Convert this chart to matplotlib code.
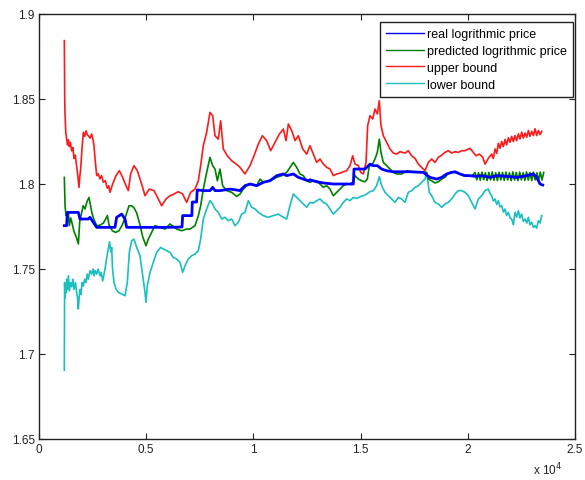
import matplotlib
matplotlib.use("Agg")
import matplotlib.pyplot as plt
from matplotlib.ticker import FuncFormatter

plt.rcParams['font.family'] = ['Liberation Sans', 'DejaVu Sans']

# ---------------- data ----------------
upper_x = [1181, 1200, 1213, 1250, 1290, 1330, 1370, 1415, 1460, 1524, 1580, 1632, 1690, 1757, 1800,
           1866, 1900, 1943, 2000, 2068, 2130, 2192, 2250, 2301, 2380, 2457, 2520, 2565, 2620, 2690,
           2760, 2845, 2920, 3001, 3090, 3187, 3250, 3311,
           3436, 3591, 3747, 3902, 4058, 4166, 4275, 4430, 4586, 4788, 4944,
           5146, 5364, 5566, 5721, 5923, 6110, 6296, 6498, 6700, 6887, 7074, 7276, 7431, 7540, 7664,
           7820, 7975, 8100, 8209, 8364, 8473, 8597, 8784, 8986, 9188, 9375, 9608, 9841, 10028, 10230,
           10417, 10619, 10806, 11008, 11210, 11397, 11522, 11631, 11786, 11942, 12097, 12299, 12486,
           12639, 12795, 12951, 13106, 13262, 13417, 13573, 13728, 13884, 14039, 14195, 14350, 14506,
           14630, 14739, 14894, 15003, 15127, 15252, 15329, 15438, 15563, 15671, 15780, 15873, 15951,
           16060, 16216, 16371, 16527, 16682, 16838, 17071, 17226, 17382, 17537, 17693, 17848, 18004,
           18159, 18315, 18470, 18626, 18781, 18937, 19092, 19248, 19403, 19559, 19714, 19870, 20103,
           20259, 20383, 20538, 20694, 20803, 20958, 21114, 21190, 21270, 21350, 21425, 21500, 21581,
           21660, 21736, 21810, 21892, 21970, 22047, 22125, 22203, 22280, 22358, 22436, 22514, 22590,
           22669, 22750, 22825, 22900, 22980, 23060, 23136, 23210, 23291, 23370, 23447]
upper_y = [1.8843, 1.8500, 1.8412, 1.8300, 1.8264, 1.8230, 1.8260, 1.8220, 1.8245, 1.8195, 1.8215, 1.8150,
           1.8170, 1.8100, 1.8060, 1.7980, 1.8040, 1.8088, 1.8200, 1.8304, 1.8280, 1.8313, 1.8290, 1.8284,
           1.8270, 1.8294, 1.8260, 1.8225, 1.8140, 1.8050, 1.8060, 1.8030, 1.8050, 1.8010, 1.8020, 1.7975,
           1.7990, 1.7951,
           1.8000, 1.8049, 1.8078, 1.8039, 1.7990, 1.7961, 1.8059, 1.8108, 1.8078, 1.8000, 1.7931,
           1.7970, 1.7961, 1.7912, 1.7872, 1.7912, 1.7931,
           1.7941, 1.7955, 1.7941, 1.7892, 1.7951, 1.7970, 1.8019, 1.8108, 1.8225, 1.8304, 1.8421, 1.8402,
           1.8284, 1.8264, 1.8372, 1.8206, 1.8166, 1.8137, 1.8118, 1.8098, 1.8059, 1.8108, 1.8166, 1.8235,
           1.8284, 1.8255, 1.8196, 1.8245, 1.8294, 1.8323, 1.8255, 1.8353, 1.8314, 1.8255, 1.8284, 1.8206,
           1.8176, 1.8225, 1.8176, 1.8127, 1.8147, 1.8118, 1.8098, 1.8088, 1.8049, 1.8059, 1.8064, 1.8072,
           1.8078, 1.8108, 1.8166, 1.8117, 1.8108, 1.8068, 1.8059, 1.8127, 1.8343, 1.8402, 1.8382, 1.8441,
           1.8412, 1.8490, 1.8343, 1.8284, 1.8245, 1.8206, 1.8182, 1.8176, 1.8190, 1.8182, 1.8196, 1.8166,
           1.8151, 1.8117, 1.8098, 1.8078, 1.8127, 1.8147, 1.8127, 1.8157, 1.8170, 1.8186, 1.8196, 1.8182,
           1.8190, 1.8186, 1.8196, 1.8196, 1.8210, 1.8186, 1.8166, 1.8176, 1.8157, 1.8117, 1.8151, 1.8176,
           1.8150, 1.8206, 1.8180, 1.8240, 1.8210, 1.8250, 1.8220, 1.8262, 1.8230, 1.8272, 1.8245, 1.8280,
           1.8250, 1.8285, 1.8255, 1.8295, 1.8265, 1.8305, 1.8270, 1.8300, 1.8275, 1.8315, 1.8280, 1.8310,
           1.8285, 1.8325, 1.8285, 1.8315, 1.8290, 1.8310]

pred_x = [1181, 1215, 1260, 1290, 1330, 1370, 1415, 1480, 1560, 1632, 1700, 1760, 1835, 1900, 1990,
          2060, 2146, 2200, 2250, 2330, 2410, 2470, 2534, 2690, 2845, 3001, 3111, 3189, 3265, 3420,
          3575, 3731, 3887, 4042, 4200, 4322, 4430, 4555, 4710, 4835, 4990, 5099,
          5255, 5410, 5643, 5876, 6110, 6420, 6653, 6887, 7042, 7276, 7431, 7540, 7664, 7789, 7975,
          8100, 8209, 8318, 8442, 8566, 8753, 8986, 9219, 9375, 9530, 9686, 9919, 10152, 10308, 10463,
          10696, 10929, 11085, 11318, 11551, 11707, 11862, 12018, 12173, 12329, 12484, 12639, 12795,
          12951, 13106, 13262, 13417, 13573, 13728, 13884, 14039, 14195, 14350, 14506, 14661, 14739,
          14894, 15050, 15205, 15314, 15407, 15516, 15671, 15780, 15873, 15951, 16060, 16216, 16371,
          16527, 16682, 16915, 17148, 17382, 17615, 17848, 18081, 18159, 18315, 18470, 18626, 18781,
          18937, 19092, 19248, 19403, 19637, 19792, 19948, 20181, 20336, 20420, 20500, 20580, 20660,
          20740, 20820, 20900, 20980, 21060, 21140, 21220, 21300, 21380, 21460, 21540, 21620, 21700,
          21780, 21860, 21940, 22020, 22100, 22180, 22260, 22340, 22420, 22500, 22580, 22660, 22740,
          22820, 22900, 22980, 23060, 23140, 23220, 23300, 23380, 23460, 23540]
pred_y = [1.8039, 1.7872, 1.7814, 1.7830, 1.7780, 1.7830, 1.7755, 1.7800, 1.7760, 1.7720, 1.7700, 1.7680,
          1.7647, 1.7780, 1.7833, 1.7872, 1.7853, 1.7880, 1.7900, 1.7921, 1.7870, 1.7830, 1.7800, 1.7755,
          1.7758, 1.7770, 1.7794, 1.7815, 1.7760, 1.7725, 1.7715, 1.7725, 1.7760, 1.7810, 1.7872, 1.7872,
          1.7860, 1.7830, 1.7760, 1.7690, 1.7637, 1.7676,
          1.7715, 1.7755, 1.7745, 1.7735, 1.7765, 1.7735,
          1.7725, 1.7735, 1.7735, 1.7755, 1.7813, 1.7872, 1.7970, 1.8049, 1.8157, 1.8108, 1.8088, 1.8019,
          1.8088, 1.7990, 1.7961, 1.7951, 1.7927, 1.7941, 1.7970, 1.7990, 1.8000, 1.7990, 1.8029, 1.8010,
          1.8019, 1.8029, 1.8039, 1.8049, 1.8068, 1.8098, 1.8127, 1.8098, 1.8059, 1.8049, 1.8019, 1.8010,
          1.8019, 1.8019, 1.8000, 1.7980, 1.7990, 1.7970, 1.7931, 1.7951, 1.7970, 1.7990, 1.8000, 1.8000,
          1.8013, 1.8049, 1.8029, 1.8019, 1.8013, 1.8029, 1.8108, 1.8108, 1.8147, 1.8186, 1.8264, 1.8186,
          1.8127, 1.8108, 1.8088, 1.8068, 1.8059, 1.8059, 1.8078, 1.8072, 1.8072, 1.8072, 1.8068, 1.8029,
          1.8019, 1.8006, 1.8013, 1.8029, 1.8039, 1.8064, 1.8072, 1.8068, 1.8059, 1.8049, 1.8053, 1.8045,
          1.8068, 1.8024, 1.8066, 1.8022, 1.8070, 1.8025, 1.8066, 1.8020, 1.8068, 1.8024, 1.8071, 1.8022,
          1.8066, 1.8020, 1.8069, 1.8024, 1.8068, 1.8021, 1.8070, 1.8024, 1.8066, 1.8020, 1.8071, 1.8023,
          1.8068, 1.8020, 1.8070, 1.8024, 1.8066, 1.8021, 1.8071, 1.8023, 1.8068, 1.8020, 1.8070, 1.8024,
          1.8066, 1.8020, 1.8070, 1.8023, 1.8068]

real_x = [1181, 1290, 1321, 1835, 1910, 2301, 2379, 2534, 2690, 3545, 3622, 3856, 4011, 4089, 5000,
          6000, 6670, 6700, 6900, 7130, 7150, 7350, 7380, 7664, 7975, 8100, 8209, 8442, 8908, 9141,
          9375, 9608, 9841, 10152, 10463, 10774, 11085, 11397, 11551, 11862, 12096, 12329, 12562, 12639,
          12951, 13262, 13728, 14661, 14692, 15205, 15438, 15594, 15780, 15982, 16216, 16527, 17304,
          17926, 18081, 18237, 18548, 18781, 19014, 19248, 19403, 19637, 19870, 20103, 20336, 20647,
          21036, 21347, 21814, 22280, 22747, 23058, 23214, 23369, 23494]
real_y = [1.7755, 1.7755, 1.7833, 1.7833, 1.7794, 1.7794, 1.7804, 1.7774, 1.7745, 1.7745, 1.7804, 1.7823,
          1.7794, 1.7745, 1.7745, 1.7745, 1.7747, 1.7814, 1.7814, 1.7814, 1.7894, 1.7894, 1.7965, 1.7961,
          1.7961, 1.7980, 1.7961, 1.7961, 1.7970, 1.7966, 1.7961, 1.7990, 1.8000, 1.7990, 1.8010, 1.8019,
          1.8049, 1.8059, 1.8049, 1.8059, 1.8039, 1.8029, 1.8019, 1.8025, 1.8013, 1.8006, 1.8000, 1.8000,
          1.8088, 1.8088, 1.8117, 1.8108, 1.8108, 1.8088, 1.8078, 1.8072, 1.8072, 1.8068, 1.8053, 1.8039,
          1.8029, 1.8039, 1.8059, 1.8068, 1.8072, 1.8059, 1.8049, 1.8049, 1.8045, 1.8049, 1.8039, 1.8049,
          1.8045, 1.8039, 1.8049, 1.8059, 1.8039, 1.8000, 1.7994]

lower_x = [1181, 1195, 1213, 1244, 1270, 1290, 1330, 1370, 1415, 1470, 1524, 1580, 1632, 1700, 1757,
           1800, 1835, 1870, 1910, 1960, 2010, 2068, 2130, 2192, 2250, 2301, 2380, 2457, 2520, 2565,
           2620, 2690, 2760, 2845, 2900, 2970, 3079, 3150, 3234, 3290, 3311, 3350, 3389, 3430, 3498,
           3591, 3700, 3856, 4011, 4120, 4213, 4322,
           4430, 4555, 4710, 4835, 4944, 4990, 5052, 5177, 5333, 5488, 5674, 5799, 5954, 6110, 6265,
           6420, 6576, 6700, 6809, 6964, 7120, 7276, 7431, 7540, 7664, 7820, 7975, 8100, 8209, 8364,
           8520, 8675, 8831, 8986, 9141, 9297, 9452, 9608, 9763, 9919, 10074, 10230, 10463, 10696,
           10929, 11163, 11397, 11551, 11707, 11862, 12018, 12251, 12485, 12639, 12795, 12951, 13106,
           13262, 13417, 13573, 13728, 13884, 14039, 14195, 14350, 14506, 14661, 14817, 14972, 15127,
           15283, 15438, 15594, 15749, 15873, 15982, 16138, 16293, 16449, 16604, 16760, 16915, 17071,
           17226, 17382, 17537, 17693, 17848, 18004, 18081, 18206, 18315, 18470, 18626, 18781, 18937,
           19092, 19248, 19403, 19559, 19714, 19870, 20025, 20181, 20336, 20492, 20647, 20803, 20958,
           21036, 21114, 21190, 21270, 21350, 21425, 21500, 21581, 21660, 21736, 21810, 21892, 21970,
           22047, 22125, 22203, 22280, 22358, 22436, 22514, 22590, 22669, 22750, 22825, 22900, 22980,
           23060, 23136, 23210, 23291, 23370, 23447]
lower_y = [1.6905, 1.7420, 1.7330, 1.7400, 1.7360, 1.7440, 1.7380, 1.7460, 1.7370, 1.7420, 1.7395, 1.7440,
           1.7380, 1.7420, 1.7360, 1.7330, 1.7265, 1.7330, 1.7380, 1.7350, 1.7420, 1.7400, 1.7440, 1.7420,
           1.7470, 1.7440, 1.7490, 1.7470, 1.7500, 1.7460, 1.7490, 1.7470, 1.7500, 1.7460, 1.7480, 1.7430,
           1.7500, 1.7560, 1.7620, 1.7660, 1.7640, 1.7600, 1.7627, 1.7500, 1.7421,
           1.7382, 1.7363, 1.7353, 1.7343, 1.7421, 1.7598, 1.7666,
           1.7676, 1.7627, 1.7578, 1.7461, 1.7363, 1.7304,
           1.7402, 1.7480, 1.7539, 1.7598, 1.7627, 1.7618, 1.7608, 1.7598, 1.7568, 1.7559, 1.7539, 1.7480,
           1.7519, 1.7559, 1.7578, 1.7588, 1.7608, 1.7676, 1.7794, 1.7853, 1.7902, 1.7882, 1.7853, 1.7833,
           1.7794, 1.7804, 1.7784, 1.7794, 1.7755, 1.7774, 1.7823, 1.7833, 1.7902, 1.7863, 1.7853, 1.7833,
           1.7814, 1.7804, 1.7814, 1.7823, 1.7804, 1.7794, 1.7873, 1.7941, 1.7921, 1.7892, 1.7863, 1.7892,
           1.7888, 1.7902, 1.7912, 1.7892, 1.7882, 1.7853, 1.7823, 1.7843, 1.7863, 1.7892, 1.7912, 1.7902,
           1.7921, 1.7915, 1.7925, 1.7931, 1.7941, 1.7955, 1.7961, 1.7990, 1.8043, 1.7990, 1.7951, 1.7931,
           1.7912, 1.7892, 1.7921, 1.7912, 1.7892, 1.7951, 1.7961, 1.7980, 1.7990, 1.8010, 1.8029, 1.8068,
           1.7951, 1.7931, 1.7892, 1.7882, 1.7863, 1.7882, 1.7892, 1.7912, 1.7941, 1.7961, 1.7961, 1.7951,
           1.7931, 1.7892, 1.7853, 1.7912, 1.7931, 1.7961, 1.7970, 1.7945, 1.7931, 1.7900, 1.7912, 1.7880,
           1.7902, 1.7865, 1.7873, 1.7835, 1.7853, 1.7815, 1.7833, 1.7800, 1.7794, 1.7760, 1.7833, 1.7805,
           1.7843, 1.7800, 1.7823, 1.7780, 1.7794, 1.7770, 1.7804, 1.7760, 1.7775, 1.7745, 1.7755, 1.7740,
           1.7784, 1.7770, 1.7814]

yticks = [1.65, 1.7, 1.75, 1.8, 1.85, 1.9]
xticks = [0, 5000, 10000, 15000, 20000, 25000]
labels = ['real logrithmic price', 'predicted logrithmic price', 'upper bound', 'lower bound']

# ---------------- figure ----------------
fig = plt.figure(figsize=(5.85, 4.81), dpi=100)
ax = fig.add_axes([39 / 585, 41 / 481, 536 / 585, 425 / 481])

ax.plot(real_x, real_y, color=(0, 0, 1), lw=2.0, label=labels[0], zorder=4)
ax.plot(pred_x, pred_y, color=(0, 0.5, 0), lw=1.2, label=labels[1], zorder=3)
ax.plot(upper_x, upper_y, color=(1, 0.1, 0.1), lw=1.2, label=labels[2], zorder=2)
ax.plot(lower_x, lower_y, color=(0.1, 0.75, 0.75), lw=1.2, label=labels[3], zorder=2)

ax.set_xlim(0, 25000)
ax.set_ylim(1.65, 1.9)
ax.set_xticks(xticks)
ax.set_yticks(yticks)
ax.xaxis.set_major_formatter(FuncFormatter(lambda v, p: '%g' % (v / 1e4)))
ax.yaxis.set_major_formatter(FuncFormatter(lambda v, p: '%g' % v))
ax.tick_params(direction='in', length=4, width=0.8, top=True, right=True,
               labelsize=8.5, colors='#222222', pad=3)
for s in ax.spines.values():
    s.set_linewidth(1.0)
    s.set_color('#222222')

fig.text(533 / 585, 1 - 470 / 481, r'x 10$^{4}$', fontsize=8.5, color='#222222',
         ha='left', va='center')

leg = ax.legend(loc='upper right', bbox_to_anchor=(0.996, 0.981), borderaxespad=0,
                fancybox=False, edgecolor='#222222', framealpha=1, fontsize=9,
                handlelength=3.0, handletextpad=0.25, labelspacing=0.38, borderpad=0.5)
leg.get_frame().set_linewidth(1.0)
for h in leg.get_lines():
    h.set_linewidth(1.0)

fig.savefig('out.png', dpi=100)
